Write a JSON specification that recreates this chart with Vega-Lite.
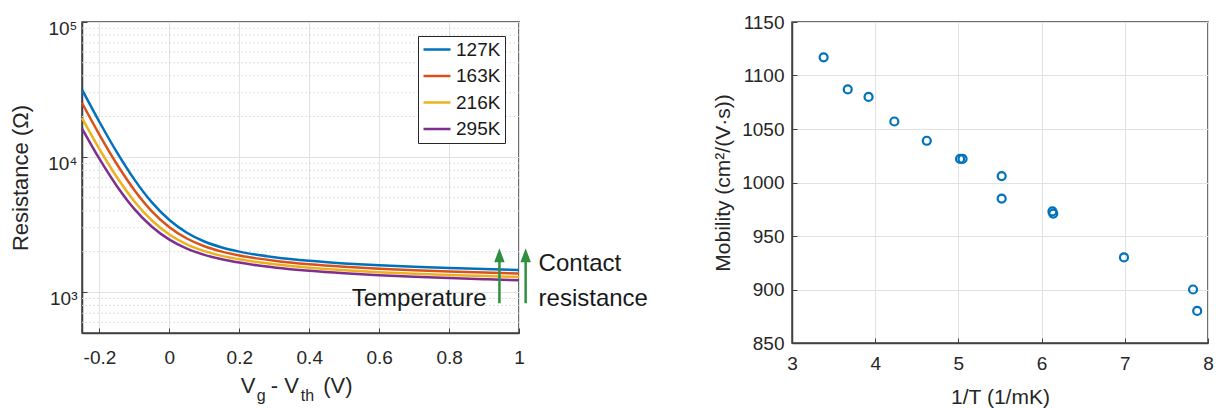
{
  "$schema": "https://vega.github.io/schema/vega-lite/v6.json",
  "autosize": {"type": "none"},
  "padding": {"left": 82, "top": 22, "right": 1137, "bottom": 386},
  "background": "white",
  "spacing": 273,
  "bounds": "flush",
  "resolve": {"legend": {"color": "independent"}},
  "config": {
    "font": "Liberation Sans",
    "view": {"stroke": "#404040", "strokeWidth": 1.5},
    "axis": {
      "labelFont": "Liberation Sans", "labelFontSize": 19, "labelColor": "#262626",
      "titleFont": "Liberation Sans", "titleFontSize": 21, "titleColor": "#262626", "titleFontWeight": "normal",
      "domainColor": "#404040", "domainWidth": 1.5, "tickColor": "#404040", "tickSize": -5,
      "gridColor": "#e2e2e2", "gridWidth": 1, "labelFlush": false, "labelOverlap": false
    },
    "legend": {"labelFont": "Liberation Sans"}
  },
  "hconcat": [
    {
      "width": 437,
      "height": 311,
      "layer": [
        {
          "data": {"values": [
            {"m": 600}, {"m": 700}, {"m": 800}, {"m": 900},
            {"m": 2000}, {"m": 3000}, {"m": 4000}, {"m": 5000}, {"m": 6000}, {"m": 7000}, {"m": 8000}, {"m": 9000},
            {"m": 20000}, {"m": 30000}, {"m": 40000}, {"m": 50000}, {"m": 60000}, {"m": 70000}, {"m": 80000}, {"m": 90000}
          ]},
          "mark": {"type": "rule", "color": "#d6d6d6", "strokeWidth": 1, "strokeDash": [1.5, 2.5]},
          "encoding": {
            "y": {"field": "m", "type": "quantitative", "scale": {"type": "log", "domain": [500, 100000], "nice": false}}
          }
        },
        {
          "data": {"values": [
            {"v": -0.25, "r": 31623, "T": "127K"}, {"v": -0.2, "r": 18197, "T": "127K"}, {"v": -0.15, "r": 10839, "T": "127K"},
            {"v": -0.1, "r": 6823, "T": "127K"}, {"v": -0.05, "r": 4624, "T": "127K"}, {"v": 0, "r": 3428, "T": "127K"},
            {"v": 0.05, "r": 2761, "T": "127K"}, {"v": 0.1, "r": 2377, "T": "127K"}, {"v": 0.15, "r": 2148, "T": "127K"},
            {"v": 0.2, "r": 2000, "T": "127K"}, {"v": 0.25, "r": 1897, "T": "127K"}, {"v": 0.3, "r": 1820, "T": "127K"},
            {"v": 0.4, "r": 1710, "T": "127K"}, {"v": 0.5, "r": 1637, "T": "127K"}, {"v": 0.6, "r": 1585, "T": "127K"},
            {"v": 0.7, "r": 1545, "T": "127K"}, {"v": 0.8, "r": 1514, "T": "127K"}, {"v": 0.9, "r": 1486, "T": "127K"},
            {"v": 1.0, "r": 1462, "T": "127K"},

            {"v": -0.25, "r": 25201, "T": "163K"}, {"v": -0.2, "r": 14632, "T": "163K"}, {"v": -0.15, "r": 8858, "T": "163K"},
            {"v": -0.1, "r": 5700, "T": "163K"}, {"v": -0.05, "r": 3977, "T": "163K"}, {"v": 0, "r": 3035, "T": "163K"},
            {"v": 0.05, "r": 2501, "T": "163K"}, {"v": 0.1, "r": 2191, "T": "163K"}, {"v": 0.15, "r": 2001, "T": "163K"},
            {"v": 0.2, "r": 1874, "T": "163K"}, {"v": 0.25, "r": 1783, "T": "163K"}, {"v": 0.3, "r": 1713, "T": "163K"},
            {"v": 0.4, "r": 1612, "T": "163K"}, {"v": 0.5, "r": 1544, "T": "163K"}, {"v": 0.6, "r": 1495, "T": "163K"},
            {"v": 0.7, "r": 1457, "T": "163K"}, {"v": 0.8, "r": 1427, "T": "163K"}, {"v": 0.9, "r": 1400, "T": "163K"},
            {"v": 1.0, "r": 1377, "T": "163K"},

            {"v": -0.25, "r": 19478, "T": "216K"}, {"v": -0.2, "r": 11467, "T": "216K"}, {"v": -0.15, "r": 7093, "T": "216K"},
            {"v": -0.1, "r": 4703, "T": "216K"}, {"v": -0.05, "r": 3399, "T": "216K"}, {"v": 0, "r": 2678, "T": "216K"},
            {"v": 0.05, "r": 2263, "T": "216K"}, {"v": 0.1, "r": 2017, "T": "216K"}, {"v": 0.15, "r": 1861, "T": "216K"},
            {"v": 0.2, "r": 1754, "T": "216K"}, {"v": 0.25, "r": 1674, "T": "216K"}, {"v": 0.3, "r": 1611, "T": "216K"},
            {"v": 0.4, "r": 1519, "T": "216K"}, {"v": 0.5, "r": 1456, "T": "216K"}, {"v": 0.6, "r": 1410, "T": "216K"},
            {"v": 0.7, "r": 1374, "T": "216K"}, {"v": 0.8, "r": 1345, "T": "216K"}, {"v": 0.9, "r": 1319, "T": "216K"},
            {"v": 1.0, "r": 1297, "T": "216K"},

            {"v": -0.25, "r": 16296, "T": "295K"}, {"v": -0.2, "r": 9701, "T": "295K"}, {"v": -0.15, "r": 6099, "T": "295K"},
            {"v": -0.1, "r": 4128, "T": "295K"}, {"v": -0.05, "r": 3057, "T": "295K"}, {"v": 0, "r": 2453, "T": "295K"},
            {"v": 0.05, "r": 2104, "T": "295K"}, {"v": 0.1, "r": 1894, "T": "295K"}, {"v": 0.15, "r": 1756, "T": "295K"},
            {"v": 0.2, "r": 1659, "T": "295K"}, {"v": 0.25, "r": 1585, "T": "295K"}, {"v": 0.3, "r": 1527, "T": "295K"},
            {"v": 0.4, "r": 1441, "T": "295K"}, {"v": 0.5, "r": 1381, "T": "295K"}, {"v": 0.6, "r": 1337, "T": "295K"},
            {"v": 0.7, "r": 1303, "T": "295K"}, {"v": 0.8, "r": 1274, "T": "295K"}, {"v": 0.9, "r": 1249, "T": "295K"},
            {"v": 1.0, "r": 1227, "T": "295K"}
          ]},
          "mark": {"type": "line", "interpolate": "monotone", "strokeWidth": 2.5},
          "encoding": {
            "x": {
              "field": "v", "type": "quantitative",
              "scale": {"domain": [-0.25, 1], "nice": false, "zero": false},
              "axis": {
                "title": null, "values": [-0.2, 0, 0.2, 0.4, 0.6, 0.8, 1], "grid": true, "labelPadding": 20,
                "labelExpr": "datum.value < 0 ? '-' + format(-datum.value, '~g') : format(datum.value, '~g')"
              }
            },
            "y": {
              "field": "r", "type": "quantitative",
              "scale": {"type": "log", "domain": [500, 100000], "nice": false},
              "axis": {
                "title": "Resistance (Ω)", "titleFontSize": 22, "values": [1000, 10000, 100000], "grid": true,
                "labelPadding": 10, "titlePadding": 15, "labelOffset": 6,
                "labelExpr": "datum.value == 1000 ? '10³' : datum.value == 10000 ? '10⁴' : '10⁵'"
              }
            },
            "color": {
              "field": "T", "type": "nominal",
              "scale": {"domain": ["127K", "163K", "216K", "295K"], "range": ["#0072BD", "#D95319", "#EDB120", "#7E2F8E"]},
              "legend": {
                "title": null, "orient": "top-right", "offset": 14,
                "symbolType": "stroke", "symbolSize": 729, "symbolStrokeWidth": 2.5,
                "labelFontSize": 19, "labelColor": "#1a1a1a", "labelOffset": 4,
                "strokeColor": "#262626", "fillColor": "white", "padding": 4,
                "rowPadding": 6.5, "clipHeight": 19
              }
            }
          }
        },
        {
          "data": {"values": [{}]},
          "mark": {"type": "rule", "color": "#2f8f3f", "strokeWidth": 2.5},
          "encoding": {"x": {"datum": 0.944}, "y": {"datum": 830}, "y2": {"datum": 1700}}
        },
        {
          "data": {"values": [{}]},
          "mark": {"type": "rule", "color": "#2f8f3f", "strokeWidth": 2.5},
          "encoding": {"x": {"datum": 1.019}, "y": {"datum": 830}, "y2": {"datum": 1700}}
        },
        {
          "data": {"values": [{}]},
          "mark": {"type": "point", "shape": "M0,-1L-0.75,1L0.75,1Z", "filled": true, "size": 196, "color": "#2f8f3f", "opacity": 1},
          "encoding": {"x": {"datum": 0.944}, "y": {"datum": 1880}}
        },
        {
          "data": {"values": [{}]},
          "mark": {"type": "point", "shape": "M0,-1L-0.75,1L0.75,1Z", "filled": true, "size": 196, "color": "#2f8f3f", "opacity": 1},
          "encoding": {"x": {"datum": 1.019}, "y": {"datum": 1880}}
        },
        {
          "data": {"values": [{}]},
          "mark": {"type": "text", "text": "Temperature", "align": "right", "baseline": "alphabetic", "fontSize": 24, "color": "#1a1a1a"},
          "encoding": {"x": {"datum": 0.907}, "y": {"datum": 787}}
        },
        {
          "data": {"values": [{}]},
          "mark": {"type": "text", "text": "Contact", "align": "left", "baseline": "alphabetic", "fontSize": 24, "color": "#1a1a1a"},
          "encoding": {"x": {"datum": 1.056}, "y": {"datum": 1438}}
        },
        {
          "data": {"values": [{}]},
          "mark": {"type": "text", "text": "resistance", "align": "left", "baseline": "alphabetic", "fontSize": 24, "color": "#1a1a1a"},
          "encoding": {"x": {"datum": 1.056}, "y": {"datum": 787}}
        },
        {
          "data": {"values": [{}]},
          "mark": {"type": "text", "text": "V", "align": "left", "baseline": "alphabetic", "fontSize": 22, "color": "#262626"},
          "encoding": {"x": {"datum": 0.2043}, "y": {"datum": 178.6}}
        },
        {
          "data": {"values": [{}]},
          "mark": {"type": "text", "text": "g", "align": "left", "baseline": "alphabetic", "fontSize": 16, "color": "#262626"},
          "encoding": {"x": {"datum": 0.25}, "y": {"datum": 158}}
        },
        {
          "data": {"values": [{}]},
          "mark": {"type": "text", "text": "- V", "align": "left", "baseline": "alphabetic", "fontSize": 22, "color": "#262626"},
          "encoding": {"x": {"datum": 0.29}, "y": {"datum": 178.6}}
        },
        {
          "data": {"values": [{}]},
          "mark": {"type": "text", "text": "th", "align": "left", "baseline": "alphabetic", "fontSize": 16, "color": "#262626"},
          "encoding": {"x": {"datum": 0.3757}, "y": {"datum": 158}}
        },
        {
          "data": {"values": [{}]},
          "mark": {"type": "text", "text": "(V)", "align": "left", "baseline": "alphabetic", "fontSize": 22, "color": "#262626"},
          "encoding": {"x": {"datum": 0.44}, "y": {"datum": 178.6}}
        }
      ]
    },
    {
      "width": 416,
      "height": 321,
      "data": {"values": [
        {"invT": 3.38, "mobility": 1117},
        {"invT": 3.67, "mobility": 1087},
        {"invT": 3.92, "mobility": 1080},
        {"invT": 4.23, "mobility": 1057},
        {"invT": 4.62, "mobility": 1039},
        {"invT": 5.02, "mobility": 1022},
        {"invT": 5.05, "mobility": 1022},
        {"invT": 5.52, "mobility": 1006},
        {"invT": 5.52, "mobility": 985},
        {"invT": 6.13, "mobility": 973},
        {"invT": 6.14, "mobility": 971},
        {"invT": 6.99, "mobility": 930},
        {"invT": 7.82, "mobility": 900},
        {"invT": 7.87, "mobility": 880}
      ]},
      "mark": {"type": "point", "shape": "circle", "filled": false, "size": 64, "strokeWidth": 2.2, "color": "#0072BD", "opacity": 1},
      "encoding": {
        "x": {
          "field": "invT", "type": "quantitative",
          "scale": {"domain": [3, 8], "nice": false, "zero": false},
          "axis": {"title": "1/T (1/mK)", "values": [3, 4, 5, 6, 7, 8], "grid": true, "labelPadding": 16, "titlePadding": 13}
        },
        "y": {
          "field": "mobility", "type": "quantitative",
          "scale": {"domain": [850, 1150], "nice": false, "zero": false},
          "axis": {"title": "Mobility (cm²/(V·s))", "format": "d", "values": [850, 900, 950, 1000, 1050, 1100, 1150], "grid": true, "labelPadding": 13, "titlePadding": 8}
        }
      }
    }
  ]
}
